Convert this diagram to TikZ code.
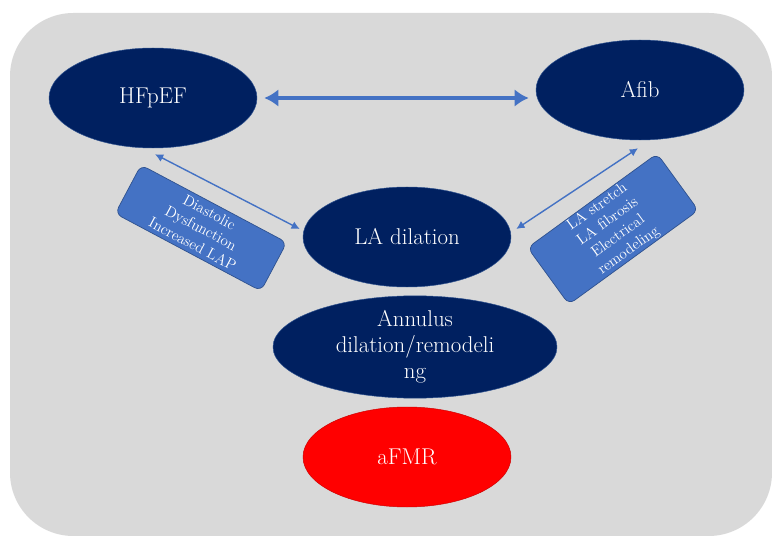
\documentclass[tikz,border=0pt]{standalone}
\usepackage{fontspec}
\usepackage{tikz}
\usetikzlibrary{shapes.geometric,arrows.meta}

\definecolor{bggray}{HTML}{D9D9D9}
\definecolor{navy}{HTML}{002060}
\definecolor{tagblue}{HTML}{4472C4}
\definecolor{tagedge}{HTML}{2F528F}
\definecolor{afmrred}{HTML}{FF0000}

\begin{document}
\begin{tikzpicture}[x=0.03cm,y=-0.03cm,
	oval/.style={ellipse, fill=navy, draw=tagedge, line width=0.4pt, minimum width=6.24cm, minimum height=3cm, inner sep=0pt, text=white, align=center, font=\fontsize{19.5}{22}\selectfont},
	tag/.style={fill=tagblue, draw=tagedge, line width=0.6pt, rounded corners=6pt, inner sep=1pt, text=white, align=center, font=\fontsize{13}{15.3}\selectfont},
	link/.style={draw=tagblue, line width=1.2pt, {Latex[length=7pt,width=7pt]}-{Latex[length=7pt,width=7pt]}},
	biglink/.style={draw=tagblue, line width=3.4pt, {Latex[length=12pt,width=15pt]}-{Latex[length=12pt,width=15pt]}}]
	\useasboundingbox (0,0) rectangle (772,536);
	%background
	\fill[bggray, rounded corners=1.9cm] (10,13) rectangle (772,536);

	%top row
	\node [oval] (hf) at (153,98) {HFpEF};
	\node [oval] (afib) at (640,90) {Afib};
	%middle
	\node [oval] (la) at (407,237) {LA dilation};
	\node [oval, minimum width=8.52cm, minimum height=3.06cm] (annulus) at (415,347) {Annulus\\dilation/remodeli\\ng};
	\node [oval, fill=afmrred, draw=afmrred!80!black] (afmr) at (407,457) {aFMR};

	%mechanism boxes
	\node [tag, rotate=-28, minimum width=4.95cm, minimum height=1.65cm] (diast) at (201,228) {Diastolic\\Dysfunction\\Increased LAP};
	\node [tag, rotate=36, minimum width=4.8cm, minimum height=2cm] (stretch) at (613,229) {LA stretch\\LA fibrosis\\Electrical\\remodeling};

	%arrows
	\draw [biglink, shorten <=6pt, shorten >=6pt] (hf.east) -- (hf.east -| afib.west);
	\draw [link] ([shift={(2,6)}]hf.south) -- ([shift={(-3,-8)}]la.west);
	\draw [link] ([shift={(5,-8)}]la.east) -- ([shift={(-2,8)}]afib.south);
\end{tikzpicture}
\end{document}
